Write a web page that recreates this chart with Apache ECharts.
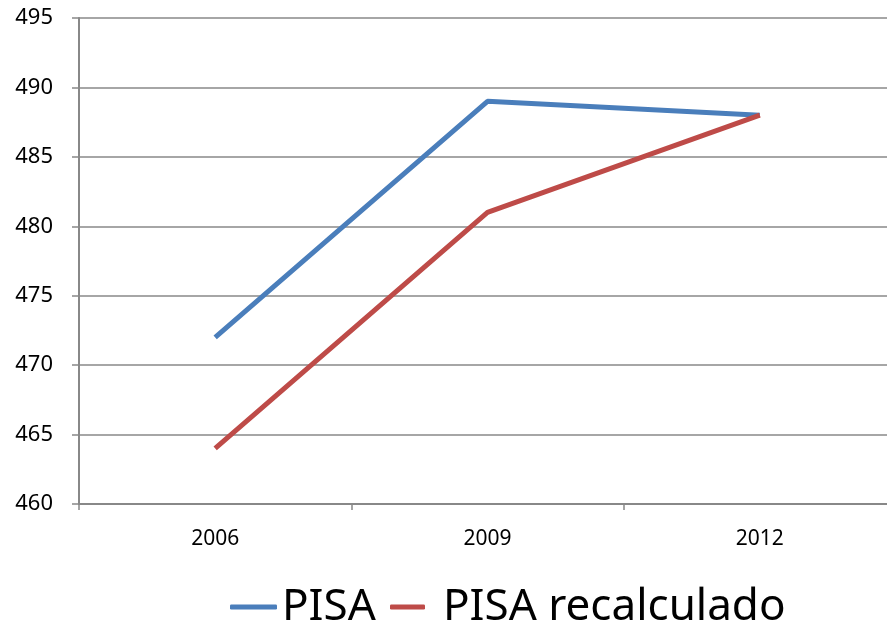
<!DOCTYPE html>
<html><head><meta charset="utf-8">
<script src="https://cdn.jsdelivr.net/npm/echarts@6/dist/echarts.min.js"></script>
<style>html,body{margin:0;padding:0;background:#fff}#c{width:887px;height:625px}</style>
</head><body><div id="c"></div>
<script>
const categories = ['2006', '2009', '2012'];
const pisa = [472, 489, 488];
const pisaRecalc = [464, 481, 488];
const seriesNames = ['PISA', 'PISA recalculado'];

const chart = echarts.init(document.getElementById('c'));
const gridColor = '#888888';
const font = 'Noto Sans';
chart.setOption({
  animation: false,
  backgroundColor: '#ffffff',
  grid: { left: 79, width: 817, top: 18, bottom: 121, containLabel: false, outerBoundsMode: 'none' },
  legend: [
    { data: [seriesNames[0]], left: 225, top: 580, itemWidth: 47, itemHeight: 5, icon: 'roundRect', itemGap: 0,
      textStyle: { fontFamily: font, fontSize: 44, color: '#000' } },
    { data: [seriesNames[1]], left: 385, top: 580, itemWidth: 35, itemHeight: 5, icon: 'roundRect', itemGap: 0,
      textStyle: { fontFamily: font, fontSize: 44, color: '#000', padding: [0, 0, 0, 13] } }
  ],
  xAxis: {
    type: 'category', data: categories, boundaryGap: true,
    axisLine: { lineStyle: { color: gridColor, width: 2 } },
    axisTick: { show: true, length: 6, lineStyle: { color: gridColor, width: 1.5 } },
    axisLabel: { fontFamily: font, fontSize: 21, color: '#000', margin: 25 }
  },
  yAxis: {
    type: 'value', min: 460, max: 495, interval: 5,
    axisLine: { show: true, lineStyle: { color: gridColor, width: 2 } },
    axisTick: { show: true, length: 7, lineStyle: { color: gridColor, width: 1.5 } },
    axisLabel: { fontFamily: font, fontSize: 22, color: '#000', margin: 26 },
    splitLine: { lineStyle: { color: gridColor, width: 1.5 } }
  },
  series: [
    { name: seriesNames[0], type: 'line', data: pisa, showSymbol: false, symbol: 'none',
      lineStyle: { color: '#4A7EBB', width: 5 }, itemStyle: { color: '#4A7EBB' } },
    { name: seriesNames[1], type: 'line', data: pisaRecalc, showSymbol: false, symbol: 'none',
      lineStyle: { color: '#BE4B48', width: 5 }, itemStyle: { color: '#BE4B48' } }
  ]
});
</script></body></html>
